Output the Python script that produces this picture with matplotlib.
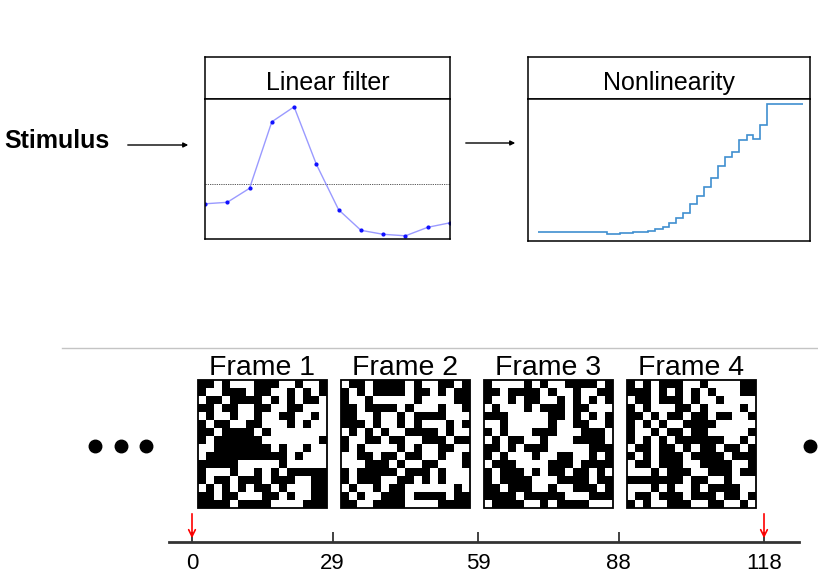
import numpy as np
import matplotlib
matplotlib.use('Agg')
import matplotlib.pyplot as plt
from matplotlib.patches import Rectangle

plt.rcParams['font.family'] = ['Liberation Sans', 'DejaVu Sans']

# linear filter: weight of each time lag
filter_lag = list(range(12))
filter_w = [-0.39, -0.36, -0.08, 1.25, 1.55, 0.40, -0.51, -0.92, -1.00, -1.03, -0.86, -0.77]

# nonlinearity: bin edges of the filtered stimulus and the firing level in each bin
nl_edges = [10, 78.7, 92, 105.3, 120.3, 127, 134.7, 141.3, 148, 154.7, 162, 168.7,
            176, 182.7, 190.3, 197, 204.3, 211, 218.7, 224.7, 232, 238.7, 275]
nl_rate = [9.3, 7, 8, 9, 10, 12, 14.3, 17.7, 22.7, 28.3, 36.7, 45.3,
           54.3, 63.3, 75.3, 84.3, 88.7, 101, 106, 101.7, 115.7, 137]

# time axis (frame number) and the four binary stimulus frames
tick_frames = [0, 29, 59, 88, 118]
marked_frames = [0, 118]
frame_names = ['Frame 1', 'Frame 2', 'Frame 3', 'Frame 4']
dot_frames = [-20.0, -14.6, -9.5, 127.5]

frame1 = ["##.#...###..#..#", "#..###.##..#.#.#", ".##.####.#.#.##.", "##.##..##..##...",
          ".#..#..#..##..#.", "#.##..##...#.#..", "##.####.#.......", "#.######.......#",
          "..#######.#..#..", ".##########.#...", "#####.....#.....", "#...#..#.#.#####",
          "#.##.###.###..##", ".#.#.#.##.#...##", "##.##...##.#..##", "####.####....###"]
frame2 = [".##.####.#..##.#", "#.#.####.##.#.##", "#..#.....#....##", "##.####.#...#..#",
          "##..#..#.####...", "###.#..#.#...#.#", ".#.#.#..####.#..", "#..##.##..###.##",
          "#.#....#.#..##..", "..##.##.##..#..#", "...###.#..##...#", "#.#####.###.#...",
          "#.###..##.#.#...", ".#..#.##......#.", "#.#..###.####.##", "##..####....####"]
frame3 = ["#....#.#..####.#", "##.####.#..#..##", "#..#.##..#.#.#.#", ".#...#.###.##...",
          "###.....##.#.#.#", "..#.....#..##..#", "#.#...###...###.", ".#.##..#...####.",
          "##.#.###.....###", "#.#...#..##..#.#", ".###....###.####", "#.###.#.##.##.#.",
          "#.####...####.##", "##.###..#..###.#", "####.#####...###", ".####..#.####..."]
frame4 = ["#.#.###..#....##", "###.#.#.#.#...##", ".##.###.#..#....", "#.#...##.#....#.",
          "##.#.##.##.##..#", "#.#.#..####.....", "#..#.##.##.....#", "#.#.#.######..#.",
          ".##.##.#.##.##.#", "#.#.###.####.###", ".##.###..####..#", "...#.###..###.##",
          "#######.##..#...", "...#.#..#.####..", ".##.###.###.##.#", "#.#..###..##..#."]
frames = [frame1, frame2, frame3, frame4]

W, H = 818, 579
fig = plt.figure(figsize=(W / 100, H / 100), dpi=100)


def px_axes(x0, y0, x1, y1):
    # axes placed by pixel box (top-left origin)
    return fig.add_axes([x0 / W, 1 - y1 / H, (x1 - x0) / W, (y1 - y0) / H])


# background layer for the text and arrows of the diagram
bg = fig.add_axes([0, 0, 1, 1])
bg.set_xlim(0, W)
bg.set_ylim(H, 0)
bg.axis('off')
bg.text(4, 141, 'Stimulus', fontsize=18, fontweight='bold', va='center', ha='left')
bg.annotate('', xy=(191, 145), xytext=(125, 145),
            arrowprops=dict(arrowstyle='-|>', color='black', lw=1, mutation_scale=7))
bg.annotate('', xy=(518, 143), xytext=(463, 143),
            arrowprops=dict(arrowstyle='-|>', color='black', lw=1, mutation_scale=7))

# title boxes
for box, title in [((205, 57, 450, 99), 'Linear filter'), ((528, 57, 810, 99), 'Nonlinearity')]:
    tax = px_axes(*box)
    tax.set_xticks([])
    tax.set_yticks([])
    for s in tax.spines.values():
        s.set_linewidth(1.1)
    tax.text(0.5, 0.21, title, transform=tax.transAxes, ha='center', va='baseline', fontsize=18)

# linear filter
ax1 = px_axes(205, 99, 450, 239)
ax1.axhline(0, color='#444444', lw=0.6, ls=(0, (1.5, 1.2)))
ax1.plot(filter_lag, filter_w, color='#9a9aff', lw=1, marker='o', ms=2.0,
         mfc='#1010ff', mec='#1010ff')
ax1.set_xlim(0, 11)
ax1.set_ylim(-1.094, 1.706)
ax1.set_xticks([])
ax1.set_yticks([])
for s in ax1.spines.values():
    s.set_linewidth(1.1)

# nonlinearity
ax2 = px_axes(528, 99, 810, 241)
ax2.stairs(nl_rate, nl_edges, baseline=None, color='#3f8fd0', lw=1.2)
ax2.set_xlim(0, 282)
ax2.set_ylim(0, 142)
ax2.set_xticks([])
ax2.set_yticks([])
for s in ax2.spines.values():
    s.set_linewidth(1.1)

# stimulus time line
px_per_frame = (764 - 192) / 118
tl = px_axes(0, 340, W, H)
tl.axhline(348, xmin=62 / W, xmax=1, color='#c4c4c4', lw=1)
half = 13.3
for k, fr in enumerate(frames):
    img = np.array([[1 if c == '#' else 0 for c in row] for row in fr])
    c = (tick_frames[k] + tick_frames[k + 1]) / 2
    tl.imshow(img, cmap='gray_r', vmin=0, vmax=1, interpolation='nearest',
              extent=(c - half, c + half, 508, 380), aspect='auto')
    tl.add_patch(Rectangle((c - half, 380), 2 * half, 128, fill=False, ec='black', lw=1.3))
    tl.text(c, 375, frame_names[k], ha='center', va='baseline', fontsize=20.5)

tl.plot(dot_frames, [446] * len(dot_frames), 'o', color='black', ms=9)
for f in marked_frames:
    tl.annotate('', xy=(f, 541), xytext=(f, 511),
                arrowprops=dict(arrowstyle='->', color='red', lw=1.2, mutation_scale=12))

tl.set_xlim(-192 / px_per_frame, (W - 192) / px_per_frame)
tl.set_ylim(H, 340)
tl.patch.set_visible(False)
for side in ['top', 'left', 'right']:
    tl.spines[side].set_visible(False)
tl.spines['bottom'].set_position(('data', 542))
tl.spines['bottom'].set_bounds(-4.7, 125.2)
tl.spines['bottom'].set_linewidth(2)
tl.spines['bottom'].set_color('#333333')
tl.set_yticks([])
tl.set_xticks(tick_frames)
tl.set_xticklabels([str(t) for t in tick_frames])
tl.tick_params(axis='x', direction='in', length=7, width=1.3, color='#333333',
               pad=8, labelsize=16)

fig.savefig('out.png', dpi=100)
